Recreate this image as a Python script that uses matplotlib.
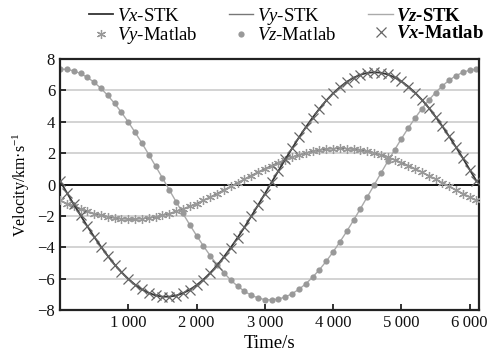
import matplotlib.pyplot as plt
import numpy as np
from matplotlib.ticker import FuncFormatter

plt.rcParams['font.family'] = ['Liberation Serif', 'DejaVu Serif']
plt.rcParams['mathtext.fontset'] = 'custom'
plt.rcParams['mathtext.rm'] = 'Liberation Serif'
plt.rcParams['mathtext.it'] = 'Liberation Serif:italic'
plt.rcParams['mathtext.bf'] = 'Liberation Serif:bold:italic'

# sampling time grid (s)
t = np.arange(0, 6200, 100)

vx = [0.22, -0.52, -1.25, -1.96, -2.66, -3.33, -3.96, -4.55, -5.10, -5.58,
      -6.01, -6.38, -6.68, -6.90, -7.06, -7.14, -7.14, -7.07, -6.92, -6.70,
      -6.41, -6.05, -5.63, -5.15, -4.61, -4.02, -3.39, -2.73, -2.03, -1.32,
      -0.59, 0.15, 0.88, 1.61, 2.31, 3.00, 3.65, 4.26, 4.83, 5.35,
      5.81, 6.20, 6.54, 6.80, 6.99, 7.11, 7.15, 7.12, 7.01, 6.82,
      6.57, 6.24, 5.85, 5.40, 4.89, 4.32, 3.71, 3.06, 2.38, 1.68,
      0.95, 0.22]

vy = [-1.01, -1.21, -1.39, -1.56, -1.71, -1.85, -1.96, -2.06, -2.13, -2.17,
      -2.20, -2.20, -2.17, -2.13, -2.06, -1.96, -1.85, -1.71, -1.56, -1.39,
      -1.21, -1.01, -0.80, -0.58, -0.35, -0.12, 0.11, 0.34, 0.57, 0.79,
      1.00, 1.21, 1.40, 1.58, 1.74, 1.88, 2.01, 2.11, 2.19, 2.25,
      2.29, 2.30, 2.29, 2.25, 2.19, 2.11, 2.01, 1.88, 1.74, 1.58,
      1.40, 1.21, 1.00, 0.79, 0.57, 0.34, 0.11, -0.12, -0.35, -0.58,
      -0.80, -1.01]

vz = [7.35, 7.33, 7.24, 7.07, 6.82, 6.51, 6.12, 5.67, 5.16, 4.59,
      3.98, 3.32, 2.63, 1.91, 1.17, 0.42, -0.34, -1.09, -1.84, -2.56,
      -3.25, -3.91, -4.53, -5.10, -5.62, -6.08, -6.47, -6.79, -7.05, -7.22,
      -7.33, -7.35, -7.29, -7.16, -6.95, -6.67, -6.32, -5.90, -5.42, -4.88,
      -4.29, -3.65, -2.98, -2.27, -1.54, -0.79, -0.04, 0.72, 1.47, 2.20,
      2.91, 3.59, 4.23, 4.82, 5.37, 5.85, 6.28, 6.64, 6.93, 7.14,
      7.28, 7.35]

fig = plt.figure(figsize=(4.92, 3.59), dpi=100)
ax = fig.add_axes([0.122, 0.136, 0.852, 0.700])

ax.axhline(0, color='#111111', lw=1.4, zorder=1)

l_vx, = ax.plot(t, vx, color='#333333', lw=1.3, zorder=4)
l_vy, = ax.plot(t, vy, color='#777777', lw=1.0, zorder=3)
l_vz, = ax.plot(t, vz, color='#aaaaaa', lw=1.0, zorder=2)
m_vy, = ax.plot(t, vy, ls='none', marker=(6, 2, 0), ms=6.5, mew=0.9,
                color='#999999', zorder=3)
m_vz, = ax.plot(t, vz, ls='none', marker='o', ms=4.5, mew=0,
                color='#999999', zorder=2)
m_vx, = ax.plot(t, vx, ls='none', marker='x', ms=6.5, mew=0.9,
                color='#666666', zorder=4)

ax.set_xlim(0, 6140)
ax.set_ylim(-8, 8)
ax.set_xticks([1000, 2000, 3000, 4000, 5000, 6000])
ax.set_yticks(range(-8, 9, 2))
ax.xaxis.set_major_formatter(FuncFormatter(lambda v, p: f'{int(v) // 1000}\u2009{int(v) % 1000:03d}'))
ax.tick_params(direction='in', labelsize=12, length=4, width=1.2, colors='#111111')
ax.yaxis.grid(True, color='#cccccc', lw=1.2)
ax.set_axisbelow(True)
for s in ax.spines.values():
    s.set_linewidth(1.6)
    s.set_color('#222222')

ax.set_xlabel('Time/s', fontsize=13.5, labelpad=3)
ax.set_ylabel(r'Velocity/km·s$^{-1}$', fontsize=11.5, labelpad=4)

handles = [l_vx, m_vy, l_vy, m_vz, l_vz, m_vx]
labels = [r'$Vx$-STK', r'$Vy$-Matlab', r'$Vy$-STK', r'$Vz$-Matlab',
          r'$\mathbf{Vz}$-STK', r'$\mathbf{Vx}$-Matlab']
leg = fig.legend(handles, labels, ncol=3, loc='upper center',
                 bbox_to_anchor=(0.582, 1.015), frameon=False, fontsize=13.5,
                 handlelength=1.3, handletextpad=0.2, columnspacing=1.7,
                 labelspacing=0.02, borderaxespad=0.2)
for i in (4, 5):
    leg.get_texts()[i].set_fontweight('bold')

fig.savefig('out.png', dpi=100)
